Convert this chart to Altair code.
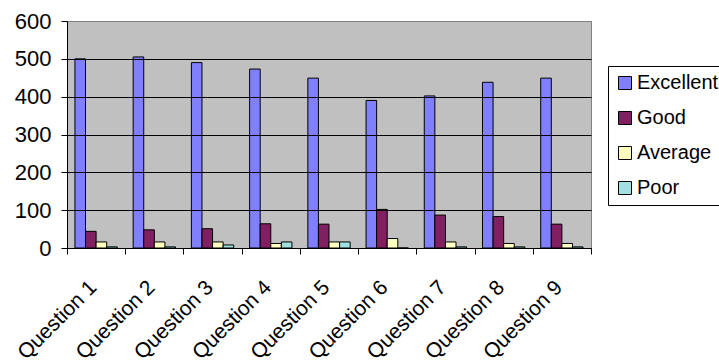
import altair as alt
import pandas as pd

# Survey responses per question
questions = [f"Question {i}" for i in range(1, 10)]
ratings = ["Excellent", "Good", "Average", "Poor"]
excellent = [500, 505, 490, 473, 449, 390, 402, 438, 449]
good = [44, 48, 51, 64, 63, 102, 87, 83, 63]
average = [16, 16, 16, 12, 16, 25, 16, 12, 12]
poor = [3, 3, 8, 16, 16, 0, 3, 3, 3]
colors = ["#8080FF", "#802060", "#FFFFC0", "#A0E0E0"]

rows = []
for rating, values in zip(ratings, [excellent, good, average, poor]):
    for q, v in zip(questions, values):
        rows.append({"question": q, "rating": rating, "count": v})
df = pd.DataFrame(rows)

FONT = "Liberation Sans"

bars = alt.Chart(df).mark_bar(stroke="black", strokeWidth=1).encode(
    x=alt.X(
        "question:N",
        sort=questions,
        title=None,
        scale=alt.Scale(paddingInner=0, paddingOuter=0),
        axis=alt.Axis(
            labelAngle=-45,
            labelAlign="right",
            labelBaseline="middle",
            labelFontSize=21,
            labelPadding=30,
            labelOffset=-3,
            tickBand="extent",
            tickSize=6,
            tickColor="black",
            domainColor="black",
            labelColor="black",
            labelFont=FONT,
            grid=False,
            zindex=1,
        ),
    ),
    xOffset=alt.XOffset(
        "rating:N",
        sort=ratings,
        scale=alt.Scale(paddingInner=0, paddingOuter=0.75),
    ),
    y=alt.Y(
        "count:Q",
        title=None,
        scale=alt.Scale(domain=[0, 600], nice=False),
        axis=alt.Axis(
            values=[0, 100, 200, 300, 400, 500, 600],
            labelFontSize=22,
            labelFont=FONT,
            labelColor="black",
            labelPadding=10,
            tickSize=6,
            tickColor="black",
            domainColor="black",
            grid=True,
            gridColor={
                "condition": {"test": "datum.value == 600", "value": "#808080"},
                "value": "black",
            },
            gridOpacity=1,
            zindex=1,
        ),
    ),
    color=alt.Color(
        "rating:N",
        sort=ratings,
        scale=alt.Scale(domain=ratings, range=colors),
        legend=alt.Legend(
            title=None,
            orient="none",
            legendX=541,
            legendY=45,
            symbolType="square",
            symbolSize=169,
            symbolStrokeColor="black",
            symbolStrokeWidth=1,
            labelFontSize=20,
            labelFont=FONT,
            labelColor="black",
            labelOffset=2,
            rowPadding=15,
            padding=7,
            strokeColor="black",
            fillColor="white",
        ),
    ),
)

chart = bars.properties(
    width=524,
    height=227,
    autosize="none",
    padding={"left": 67, "top": 21, "right": 128, "bottom": 114},
    background="white",
).configure_view(
    fill="#C0C0C0",
    stroke="#808080",
    strokeWidth=1,
)

chart.save("out.html", embed_options={"renderer": "svg", "actions": False})
